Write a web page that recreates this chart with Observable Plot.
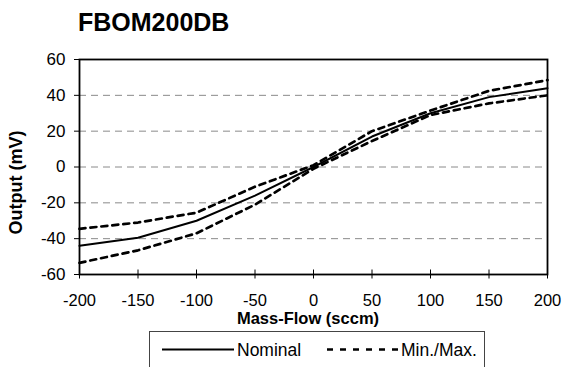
<!DOCTYPE html>
<html>
<head>
<meta charset="utf-8">
<script src="https://cdn.jsdelivr.net/npm/d3@7"></script>
<script src="https://cdn.jsdelivr.net/npm/@observablehq/plot@0.6"></script>
<style>
  html, body { margin: 0; padding: 0; background: white; }
  #wrap { position: relative; width: 562px; height: 367px; overflow: hidden; font-family: Arial, "Liberation Sans", sans-serif; }
  #title { position: absolute; left: 78px; top: 8px; font-weight: bold; font-size: 25px; line-height: normal; color: #000; }
  #chart { position: absolute; left: 0; top: 0; }
  #overlay { position: absolute; left: 0; top: 0; }
</style>
</head>
<body>
<div id="wrap">
  <div id="chart"></div>
  <div id="title"></div>
  <svg id="overlay" width="562" height="367"></svg>
</div>
<script>
const titleText = "FBOM200DB";
const xLabel = "Mass-Flow (sccm)";
const yLabel = "Output (mV)";
const seriesNames = ["Nominal", "Min./Max."];

const flow = [-200, -150, -100, -50, 0, 50, 100, 150, 200];
const nominal = [-44, -39.5, -30, -16, 0, 17, 30, 39, 44];
const maxOut = [-34.5, -31, -25.5, -11, 1, 20, 31.5, 42.5, 48.5];
const minOut = [-53.5, -46.5, -37, -21, -1, 14.5, 29, 35.5, 40];

const xTicks = [-200, -150, -100, -50, 0, 50, 100, 150, 200];
const yTicks = [-60, -40, -20, 0, 20, 40, 60];
const gridY = [-40, -20, 0, 20, 40];

const rows = (vals, name) => flow.map((f, i) => ({flow: f, out: vals[i], series: name}));
const nomRows = rows(nominal, "nominal");
const maxRows = rows(maxOut, "max");
const minRows = rows(minOut, "min");

document.getElementById("title").textContent = titleText;

const FONT = "Arial, 'Liberation Sans', sans-serif";

const chart = Plot.plot({
  width: 562,
  height: 367,
  marginTop: 59,
  marginLeft: 79,
  marginRight: 15,
  marginBottom: 93,
  x: {domain: [-200, 200]},
  y: {domain: [-60, 60]},
  style: {fontFamily: FONT, fontSize: "16.5px", color: "black", background: "white"},
  marks: [
    Plot.ruleY(gridY, {stroke: "#8a8a8a", strokeDasharray: "7,5", strokeWidth: 1}),
    Plot.line(maxRows, {x: "flow", y: "out", stroke: "black", strokeWidth: 2.7, strokeDasharray: "6,5"}),
    Plot.line(minRows, {x: "flow", y: "out", stroke: "black", strokeWidth: 2.7, strokeDasharray: "6,5"}),
    Plot.line(nomRows, {x: "flow", y: "out", stroke: "black", strokeWidth: 2}),
    Plot.frame({stroke: "black", strokeWidth: 1.8}),
    Plot.axisY({ticks: yTicks, tickSize: 5, tickPadding: 9, label: null, tickFormat: d => String(d), fontSize: 17}),
    Plot.axisX({ticks: xTicks, tickSize: 9, dy: -4.5, tickFormat: () => "", label: null}),
    Plot.axisX({ticks: xTicks, tickSize: 0, tickPadding: 20, label: null, tickFormat: d => String(d), fontSize: 16.5})
  ]
});
document.getElementById("chart").appendChild(chart);

// Axis titles and legend (overlay)
const ov = d3.select("#overlay");
ov.append("text").attr("x", 308).attr("y", 323.5).attr("text-anchor", "middle")
  .attr("font-family", FONT).attr("font-weight", "bold").attr("font-size", 16.5).text(xLabel);
ov.append("text").attr("transform", "translate(21.5,182.5) rotate(-90)").attr("text-anchor", "middle")
  .attr("font-family", FONT).attr("font-weight", "bold").attr("font-size", 18).text(yLabel);

ov.append("rect").attr("x", 149.5).attr("y", 331.5).attr("width", 335).attr("height", 60)
  .attr("fill", "white").attr("stroke", "#444").attr("stroke-width", 1);
ov.append("line").attr("x1", 162).attr("x2", 234).attr("y1", 349.5).attr("y2", 349.5)
  .attr("stroke", "black").attr("stroke-width", 2);
ov.append("text").attr("x", 237).attr("y", 356).text(seriesNames[0])
  .attr("font-family", FONT).attr("font-size", 17.5);
ov.append("line").attr("x1", 327).attr("x2", 398).attr("y1", 349.5).attr("y2", 349.5)
  .attr("stroke", "black").attr("stroke-width", 2.5).attr("stroke-dasharray", "6,7");
ov.append("text").attr("x", 401).attr("y", 356).text(seriesNames[1])
  .attr("font-family", FONT).attr("font-size", 17.5);
</script>
</body>
</html>
